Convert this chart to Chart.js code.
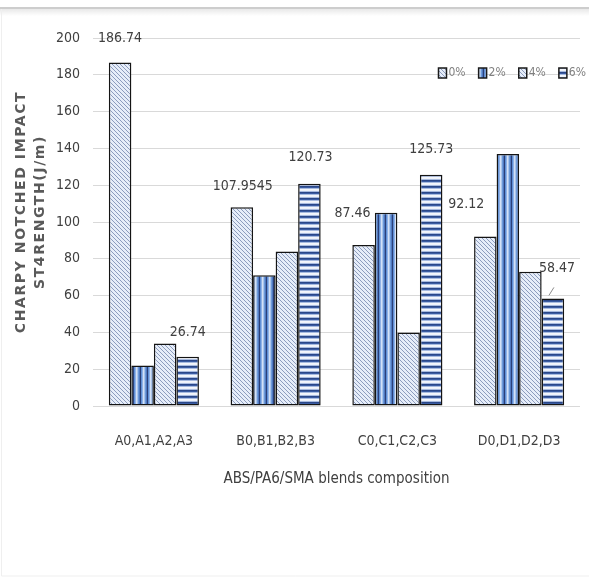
<!DOCTYPE html>
<html>
<head>
<meta charset="utf-8">
<script src="https://cdn.jsdelivr.net/npm/chart.js@4/dist/chart.umd.min.js"></script>
<style>
  html, body { margin: 0; padding: 0; background: #ffffff; }
  #wrap { position: relative; width: 589px; height: 580px; }
</style>
</head>
<body>
<div id="wrap"><canvas id="chart" width="589" height="580"></canvas></div>
<script>
// Blend groups and SMA loading levels
const categories = ['A0,A1,A2,A3', 'B0,B1,B2,B3', 'C0,C1,C2,C3', 'D0,D1,D2,D3'];
const seriesNames = ['0%', '2%', '4%', '6%'];

// Charpy notched impact strength (J/m) per SMA level
const sma0 = [186.74, 107.9545, 87.46, 92.12];
const sma2 = [22, 71, 105, 137];
const sma4 = [34, 84, 40, 73];
const sma6 = [26.74, 120.73, 125.73, 58.47];

// Value axis
const yMin = 0;
const yMax = 200;
const yStep = 20;

// Axis titles
const yTitleLines = ['CHARPY NOTCHED IMPACT', 'ST4RENGTH(J/m)'];
const xTitle = 'ABS/PA6/SMA blends composition';

const NARROW = '"Liberation Sans Narrow", "DejaVu Sans Condensed", "Arial Narrow", sans-serif';
const TEXT = '#404040';

// Hatch fills
function makePattern(kind) {
  const c = document.createElement('canvas');
  const g = c.getContext('2d');
  if (kind === 'diag') {
    c.width = 4; c.height = 4;
    g.fillStyle = '#e6edf9'; g.fillRect(0, 0, 4, 4);
    g.strokeStyle = '#8193b6'; g.lineWidth = 0.9;
    g.beginPath();
    g.moveTo(-1, -1); g.lineTo(5, 5);
    g.moveTo(-1, 3); g.lineTo(1, 5);
    g.moveTo(3, -1); g.lineTo(5, 1);
    g.stroke();
  } else if (kind === 'vert') {
    c.width = 7; c.height = 4;
    const cols = ['#2a3f78', '#5f8fd6', '#8fb1e6', '#d3e1f6', '#a9c4ec', '#6d9ad9', '#4f78c0'];
    cols.forEach((col, i) => { g.fillStyle = col; g.fillRect(i, 0, 1, 4); });
  } else {
    c.width = 4; c.height = 6;
    const rows = ['#2b4788', '#3a5ca3', '#a7badf', '#f3f6fc', '#eef2fa', '#a7badf'];
    rows.forEach((col, i) => { g.fillStyle = col; g.fillRect(0, i, 4, 1); });
  }
  return g.createPattern(c, 'repeat');
}

const fills = [makePattern('diag'), makePattern('vert'), makePattern('diag'), makePattern('horiz')];
const seriesValues = [sma0, sma2, sma4, sma6];

// Labelled series and where each label sits relative to its bar top
const labelOffsets = {
  0: [[0, -24], [1, -21], [-11, -32], [-19, -32]],
  3: [[0, -24], [1, -26], [0, -25], [4, -30]]
};

const framePlugin = {
  id: 'frame',
  beforeDraw(chart) {
    const ctx = chart.ctx;
    ctx.save();
    ctx.fillStyle = '#ffffff';
    ctx.fillRect(0, 0, chart.width, chart.height);
    const grad = ctx.createLinearGradient(0, 8, 0, 16);
    grad.addColorStop(0, 'rgba(0,0,0,0.10)');
    grad.addColorStop(1, 'rgba(0,0,0,0)');
    ctx.fillStyle = grad;
    ctx.fillRect(0, 8, chart.width, 8);
    ctx.strokeStyle = '#cdcdcd';
    ctx.lineWidth = 2;
    ctx.beginPath(); ctx.moveTo(0, 8); ctx.lineTo(chart.width, 8); ctx.stroke();
    ctx.strokeStyle = '#efefef';
    ctx.lineWidth = 1;
    ctx.beginPath(); ctx.moveTo(1.5, 9); ctx.lineTo(1.5, 576); ctx.lineTo(chart.width, 576); ctx.stroke();
    ctx.restore();
  }
};

// Two-line, letter-spaced value-axis title
const yTitlePlugin = {
  id: 'yTitle',
  afterDraw(chart) {
    const ctx = chart.ctx;
    const area = chart.chartArea;
    ctx.save();
    ctx.translate(21, (area.top + area.bottom) / 2 - 10);
    ctx.rotate(-Math.PI / 2);
    ctx.font = 'bold 14px "DejaVu Sans", sans-serif';
    if ('letterSpacing' in ctx) ctx.letterSpacing = '1.6px';
    ctx.fillStyle = '#5a5a5a';
    ctx.textAlign = 'center';
    ctx.textBaseline = 'middle';
    yTitleLines.forEach((line, i) => ctx.fillText(line, 0, i * 19));
    ctx.restore();
  }
};

const valueLabelPlugin = {
  id: 'valueLabels',
  afterDatasetsDraw(chart) {
    const ctx = chart.ctx;
    ctx.save();
    ctx.font = '14px ' + NARROW;
    ctx.fillStyle = TEXT;
    ctx.textAlign = 'center';
    ctx.textBaseline = 'middle';
    Object.keys(labelOffsets).forEach(k => {
      const di = Number(k);
      const meta = chart.getDatasetMeta(di);
      meta.data.forEach((bar, i) => {
        const [dx, dy] = labelOffsets[di][i];
        const txt = String(chart.data.datasets[di].data[i]);
        ctx.fillText(txt, bar.x + dx, bar.y + dy);
        if (di === 3 && i === 3) {
          ctx.strokeStyle = '#8c8c8c';
          ctx.lineWidth = 1;
          ctx.beginPath();
          ctx.moveTo(bar.x + 1, bar.y - 11);
          ctx.lineTo(bar.x - 4, bar.y - 3);
          ctx.stroke();
        }
      });
    });
    ctx.restore();
  }
};

const legendPlugin = {
  id: 'cornerLegend',
  afterDraw(chart) {
    const ctx = chart.ctx;
    ctx.save();
    ctx.font = '12px ' + NARROW;
    ctx.textBaseline = 'middle';
    const boxW = 8, boxH = 10, gapBox = 2, gapItem = 13, y = 73, right = 586;
    const widths = seriesNames.map(n => boxW + gapBox + ctx.measureText(n).width);
    const total = widths.reduce((a, b) => a + b, 0) + gapItem * (seriesNames.length - 1);
    let x = right - total;
    seriesNames.forEach((name, i) => {
      ctx.fillStyle = fills[i];
      ctx.fillRect(x, y - boxH / 2, boxW, boxH);
      ctx.strokeStyle = '#1a1a1a';
      ctx.lineWidth = 1.5;
      ctx.strokeRect(x, y - boxH / 2, boxW, boxH);
      ctx.fillStyle = '#808080';
      ctx.textAlign = 'left';
      ctx.fillText(name, x + boxW + gapBox, y);
      x += widths[i] + gapItem;
    });
    ctx.restore();
  }
};

const chart = new Chart(document.getElementById('chart'), {
  type: 'bar',
  data: {
    labels: categories,
    datasets: seriesNames.map((name, i) => ({
      label: name,
      data: seriesValues[i],
      backgroundColor: fills[i],
      borderColor: '#141414',
      borderWidth: 1.5,
      borderSkipped: false,
      categoryPercentage: 0.74,
      barPercentage: 1.0
    }))
  },
  options: {
    responsive: false,
    animation: false,
    devicePixelRatio: 1,
    layout: { padding: { left: 0, right: 9, top: 38, bottom: 84 } },
    plugins: {
      legend: { display: false },
      tooltip: { enabled: false }
    },
    scales: {
      x: {
        grid: { display: false, drawTicks: false },
        border: { display: false },
        ticks: { padding: 27, color: TEXT, font: { family: NARROW, size: 14 } },
        title: {
          display: true,
          text: xTitle,
          color: TEXT,
          font: { family: NARROW, size: 15 },
          padding: { top: 0, bottom: 8 }
        },
        afterFit(scale) { scale.height = 90; }
      },
      y: {
        min: yMin,
        max: yMax,
        grid: { color: '#d9d9d9', lineWidth: 1, drawTicks: false },
        border: { display: false },
        ticks: { stepSize: yStep, padding: 13, color: TEXT, font: { family: NARROW, size: 14 } },
        afterFit(scale) { scale.width = 93; }
      }
    }
  },
  plugins: [framePlugin, yTitlePlugin, valueLabelPlugin, legendPlugin]
});
</script>
</body>
</html>
